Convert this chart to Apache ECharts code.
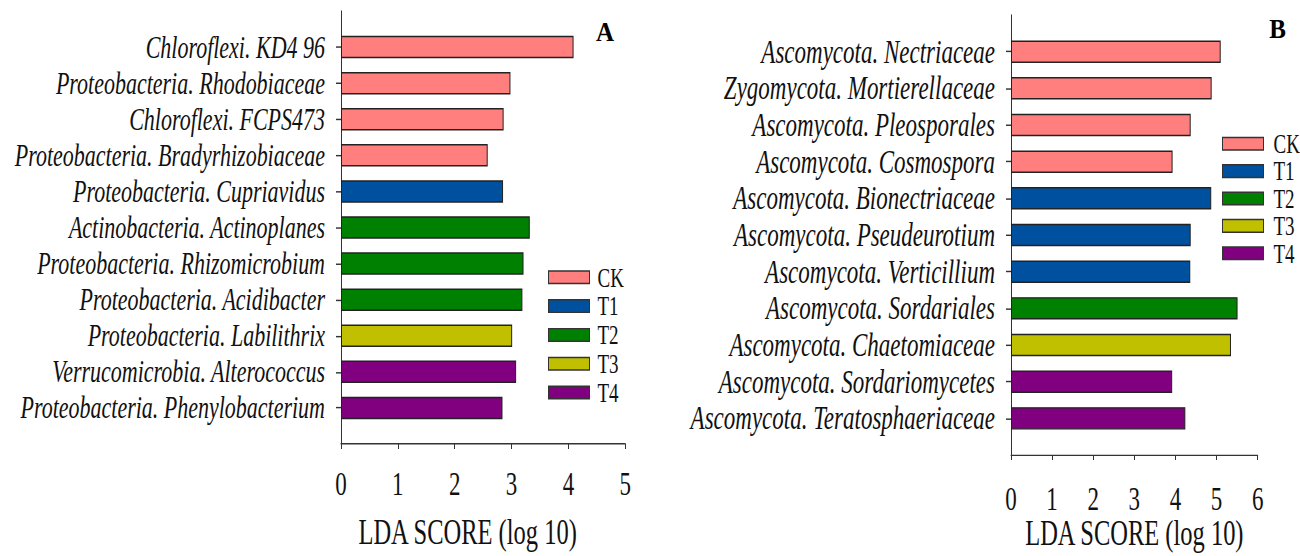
<!DOCTYPE html>
<html>
<head>
<meta charset="utf-8">
<script src="https://cdn.jsdelivr.net/npm/echarts@6/dist/echarts.min.js"></script>
<style>
  html, body { margin: 0; padding: 0; background: #fff; }
  #wrap { width: 1300px; height: 556px; overflow: hidden; background: #fff; }
  /* The figure is set in tall, narrow type: draw at a reduced height and stretch vertically. */
  #chart { width: 1300px; height: 384px; transform: scaleY(1.447917); transform-origin: 0 0; }
</style>
</head>
<body>
<div id="wrap"><div id="chart"></div></div>
<script>
// Panel A: bacterial taxa
const catsA = [
  'Chloroflexi. KD4 96',
  'Proteobacteria. Rhodobiaceae',
  'Chloroflexi. FCPS473',
  'Proteobacteria. Bradyrhizobiaceae',
  'Proteobacteria. Cupriavidus',
  'Actinobacteria. Actinoplanes',
  'Proteobacteria. Rhizomicrobium',
  'Proteobacteria. Acidibacter',
  'Proteobacteria. Labilithrix',
  'Verrucomicrobia. Alterococcus',
  'Proteobacteria. Phenylobacterium'
];
const valsA = [4.09, 2.98, 2.86, 2.58, 2.85, 3.32, 3.21, 3.19, 3.01, 3.08, 2.84];
const grpA  = ['CK', 'CK', 'CK', 'CK', 'T1', 'T2', 'T2', 'T2', 'T3', 'T4', 'T4'];

// Panel B: fungal taxa
const catsB = [
  'Ascomycota. Nectriaceae',
  'Zygomycota. Mortierellaceae',
  'Ascomycota. Pleosporales',
  'Ascomycota. Cosmospora',
  'Ascomycota. Bionectriaceae',
  'Ascomycota. Pseudeurotium',
  'Ascomycota. Verticillium',
  'Ascomycota. Sordariales',
  'Ascomycota. Chaetomiaceae',
  'Ascomycota. Sordariomycetes',
  'Ascomycota. Teratosphaeriaceae'
];
const valsB = [5.10, 4.88, 4.37, 3.93, 4.87, 4.37, 4.36, 5.51, 5.35, 3.92, 4.24];
const grpB  = ['CK', 'CK', 'CK', 'CK', 'T1', 'T1', 'T1', 'T2', 'T3', 'T4', 'T4'];

const groups = ['CK', 'T1', 'T2', 'T3', 'T4'];
const ticksA = [0, 5];   // axis range A
const ticksB = [0, 6];   // axis range B
const axisTitle = 'LDA SCORE (log 10)';

const colors = { CK: '#FF7F7F', T1: '#0050A0', T2: '#008000', T3: '#C0C000', T4: '#800080' };
const FONT = "'Liberation Serif', 'Times New Roman', serif";

function barSeries(cats, vals, grp, idx) {
  return groups.map(g => ({
    type: 'bar',
    name: g,
    xAxisIndex: idx,
    yAxisIndex: idx,
    stack: 'panel' + idx,
    barWidth: 15.5,
    silent: true,
    // blank slots at both ends keep the axis line extending one row past the bars
    data: [null].concat(vals.map((v, i) => grp[i] === g ? v : null), [null]),
    itemStyle: { color: colors[g], borderColor: '#222', borderWidth: 1 }
  }));
}

function yAxis(cats, idx, size) {
  const n = cats.length + 2;
  return {
    type: 'category',
    gridIndex: idx,
    inverse: true,
    boundaryGap: false,
    data: [''].concat(cats, ['']),
    axisLine: { show: true, lineStyle: { color: '#333', width: 1 } },
    axisTick: { show: true, length: 5, interval: (i) => i > 0 && i < n - 1, lineStyle: { color: '#333' } },
    axisLabel: { interval: 0, margin: 16, fontFamily: FONT, fontStyle: 'italic', fontSize: size, color: '#111' },
    splitLine: { show: false }
  };
}

function xAxis(range, idx, labelGap, gap, pad) {
  return {
    type: 'value',
    gridIndex: idx,
    min: range[0],
    max: range[1],
    interval: 1,
    splitLine: { show: false },
    axisLine: { show: true, onZero: false, lineStyle: { color: '#333', width: 1 } },
    axisTick: { show: true, length: 3.5, lineStyle: { color: '#333' } },
    axisLabel: { margin: labelGap, fontFamily: FONT, fontSize: 23, lineHeight: 18, color: '#111' },
    name: axisTitle,
    nameLocation: 'middle',
    nameGap: gap,
    nameMoveOverlap: false,
    nameTextStyle: { fontFamily: FONT, fontSize: 24.5, color: '#111', padding: pad }
  };
}

function legend(left, top, gap, textPad) {
  return {
    data: groups,
    orient: 'vertical',
    left: left,
    top: top,
    padding: 0,
    itemWidth: 41,
    itemHeight: 8.7,
    itemGap: gap,
    icon: 'rect',
    selectedMode: false,
    itemStyle: { borderColor: '#333', borderWidth: 1 },
    textStyle: { fontFamily: FONT, fontSize: 19, color: '#111', lineHeight: 16, padding: [0, 0, 0, textPad] }
  };
}

const chart = echarts.init(document.getElementById('chart'), null, { renderer: 'svg' });
chart.setOption({
  backgroundColor: '#fff',
  animation: false,
  grid: [
    { left: 341, top: 7.6, width: 284.3, height: 299.05, outerBoundsMode: 'none' },
    { left: 1011, top: 10.36, width: 246.7, height: 303.9, outerBoundsMode: 'none' }
  ],
  xAxis: [xAxis(ticksA, 0, 18.3, 48.7, [0, 31, 0, 0]), xAxis(ticksB, 1, 21.3, 41.4, 0)],
  yAxis: [yAxis(catsA, 0, 22), yAxis(catsB, 1, 23)],
  legend: [legend(548, 182, 0.9, 3), legend(1222, 89.8, -0.1, 5)],
  graphic: [
    { type: 'text', x: 605, y: 22.1, scaleY: 0.74, silent: true,
      style: { text: 'A', font: 'bold 25px ' + FONT, fill: '#000', textAlign: 'center', textVerticalAlign: 'middle' } },
    { type: 'text', x: 1277.5, y: 20, scaleY: 0.74, silent: true,
      style: { text: 'B', font: 'bold 25px ' + FONT, fill: '#000', textAlign: 'center', textVerticalAlign: 'middle' } }
  ],
  series: barSeries(catsA, valsA, grpA, 0).concat(barSeries(catsB, valsB, grpB, 1))
});
</script>
</body>
</html>
